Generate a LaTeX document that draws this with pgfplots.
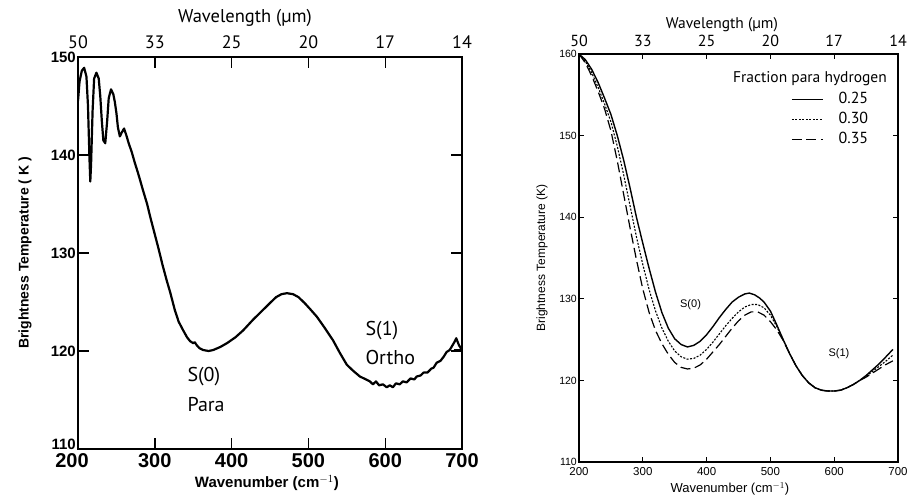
\documentclass[border=0pt]{standalone}
\usepackage{fontspec}
\setmainfont{PT Sans}
\newfontfamily\scan{Liberation Sans}
\usepackage{pgfplots}
\pgfplotsset{compat=1.18}
\newcommand{\fs}[1]{\fontsize{#1}{#1}\selectfont}

\begin{document}
\begin{tikzpicture}[x=1pt,y=1pt]
% ===================== LEFT PANEL =====================
\begin{axis}[at={(78pt,50pt)}, anchor=south west, scale only axis,
  width=384pt, height=392pt,
  xmin=200, xmax=700, ymin=110, ymax=150,
  xtick={300,400,...,700}, ytick={120,130,...,150},
  extra x ticks={200}, extra y ticks={110},
  extra x tick style={xticklabel style={xshift=-6pt}},
  extra y tick style={yticklabel style={yshift=4.5pt}},
  major tick length=11pt,
  tick style={line width=1.4pt, black},
  axis line style={line width=1.6pt},
  /pgf/number format/assume math mode=true,
  xticklabel style={font=\scan\bfseries\fs{20}, anchor=base, yshift=-18.5pt, inner ysep=0.5pt},
  yticklabel style={font=\scan\bfseries\fs{15}, anchor=east, inner xsep=2pt, inner ysep=0.5pt},
  xlabel={Wavenumber (cm$^{-1}$)},
  xlabel style={font=\scan\bfseries\fs{15}, at={(axis description cs:0.492,-0.0987)}, anchor=base},
  ylabel={Brightness Temperature ( K )},
  ylabel style={font=\scan\bfseries\fs{14}, at={(axis description cs:-0.138,0.5)}, anchor=center},
]
\addplot[black, line width=2.2pt, line join=round] coordinates {
(200,145.5) (202,147.5) (205,148.6) (208,148.9) (211,148.0) (213,145.0) (215,139.5)
(216,137.3) (217,139.0) (219,144.5) (221,147.8) (224,148.4) (227,147.8) (229,146.0)
(231,143.5) (233,141.5) (235.5,141.2) (238,143.5) (240,145.8) (243,146.7) (246,146.2)
(248,145.4) (250,144.3) (252,142.8) (254.5,141.9) (257,142.3) (260,142.7) (263,142.0)
(266,141.2) (270,140.3) (274,139.2) (278,138.2) (281,137.4) (285,136.3) (290,135.0)
(294,133.7) (300,131.9) (305,130.4) (310,128.8) (315.5,127.2) (320,126.0) (326,124.2)
(331,123.0) (337,122.1) (342,121.4) (346,121.0) (350,120.8) (352,120.9) (354.5,120.6)
(358,120.3) (363,120.1) (370,120.0) (376,120.1) (385,120.4) (394,120.8) (405,121.4)
(415,122.1) (428,123.2) (441,124.2) (450,124.9) (458,125.5) (465,125.8) (472,125.9)
(480,125.8) (487,125.5) (495,124.9) (502,124.3) (511,123.5) (520,122.5) (532,121.1)
(541,119.8) (550,118.6) (558,118.0) (567,117.4) (575,117.1) (580,116.9) (584,116.6)
(588,116.9) (592,116.5) (597,116.6) (602,116.3) (606,116.5) (610,116.3) (614,116.7)
(619,116.6) (623,116.9) (628,116.8) (633,117.2) (638,117.1) (641,117.4) (646,117.5)
(650,117.8) (655,117.8) (660,118.2) (663,118.3) (667,118.8) (672,119.0) (676,119.4)
(680,119.9) (684,120.1) (687,120.5) (690,120.9) (692.5,121.3) (696,120.6) (700,120.1)
};
\addplot[black, line width=1.6pt] coordinates {(689,120.1) (700,120.1)};
\node[anchor=base west, font=\fs{20}] at (axis cs:338,116.84) {S(0)};
\node[anchor=base west, font=\fs{20}] at (axis cs:338,113.8) {Para};
\node[anchor=base west, font=\fs{20}] at (axis cs:569.8,121.6) {S(1)};
\node[anchor=base west, font=\fs{20}] at (axis cs:569.8,118.67) {Ortho};
\end{axis}
% top (wavelength) labels, left
\begin{axis}[at={(78pt,50pt)}, anchor=south west, scale only axis,
  width=384pt, height=392pt,
  xmin=200, xmax=700, ymin=110, ymax=150,
  axis x line*=top, axis y line=none, axis line style={draw=none},
  xtick={200,300,...,700}, xticklabels={50,33,25,20,17,14},
  major tick length=0pt,
  xticklabel style={font=\fs{18}, anchor=base, yshift=8.7pt},
  xlabel={Wavelength (µm)},
  xlabel style={font=\fs{18.5}, at={(axis description cs:0.435,1.0875)}, anchor=base},
]
\end{axis}

% ===================== RIGHT PANEL =====================
\begin{axis}[at={(579pt,37pt)}, anchor=south west, scale only axis,
  width=319pt, height=408pt,
  xmin=200, xmax=700, ymin=110, ymax=160,
  xtick={200,300,...,700}, ytick={110,120,...,160},
  major tick length=5pt,
  tick style={line width=1.1pt, black},
  axis line style={line width=1.3pt},
  /pgf/number format/assume math mode=true,
  xticklabel style={font=\scan\fs{11.5}, anchor=base, yshift=-13pt},
  yticklabel style={font=\scan\fs{10.5}, anchor=east, inner xsep=2pt},
  xlabel={Wavenumber (cm$^{-1}$)},
  xlabel style={font=\scan\fs{13}, at={(axis description cs:0.473,-0.075)}, anchor=base},
  ylabel={Brightness Temperature (K)},
  ylabel style={font=\scan\fs{12}, at={(axis description cs:-0.116,0.5)}, anchor=center},
  legend style={at={(rel axis cs:0.6646,0.909)}, anchor=north west, draw=none, fill=none,
    inner sep=0pt, row sep=4pt, font=\fs{16},
    nodes={inner ysep=0pt, inner xsep=2pt, text height=12pt, text depth=4pt},
    /tikz/every odd column/.append style={column sep=13pt}},
  legend cell align=left,
  legend image code/.code={\draw[#1] (0pt,0pt) -- (31pt,0pt);},
]
\addplot[black, line width=1.4pt] coordinates {
(200,160.0) (210,159.3) (220,158.1) (230,156.5) (240,154.6) (250,152.6) (260,150.0)
(270,147.0) (280,143.6) (290,140.0) (300,136.8) (310,133.7) (320,130.8) (330,128.3)
(340,126.4) (350,125.1) (360,124.4) (370,124.1) (380,124.3) (390,124.8) (400,125.6)
(410,126.6) (420,127.7) (430,128.7) (440,129.6) (450,130.2) (460,130.6) (467,130.7)
(475,130.5) (483,130.1) (490,129.6) (500,128.5) (510,126.8) (520,125.0) (530,123.3)
(540,121.8) (550,120.6) (560,119.7) (570,119.1) (580,118.8) (590,118.7) (600,118.7)
(610,118.8) (620,119.1) (630,119.5) (640,120.0) (650,120.6) (660,121.3) (670,122.0)
(680,122.8) (692,123.8)
};
\addlegendentry{0.25}
\addplot[black, line width=1.1pt, dash pattern=on 2pt off 1.5pt] coordinates {
(200,160.0) (210,159.1) (220,157.7) (230,155.9) (240,153.9) (250,151.7) (260,148.7)
(270,145.2) (280,141.4) (290,137.6) (300,134.2) (310,131.1) (320,128.5) (330,126.4)
(340,124.8) (350,123.6) (360,122.9) (370,122.6) (380,122.7) (390,123.1) (400,123.8)
(410,124.7) (420,125.7) (430,126.7) (440,127.6) (450,128.4) (460,129.0) (470,129.3)
(480,129.3) (490,128.9) (500,128.0) (510,126.6) (520,125.0) (530,123.3) (540,121.8)
(550,120.6) (560,119.7) (570,119.1) (580,118.8) (590,118.7) (600,118.7) (610,118.8)
(620,119.1) (630,119.5) (640,120.0) (650,120.5) (660,121.1) (670,121.7) (680,122.3)
(692,123.1)
};
\addlegendentry{0.30}
\addplot[black, line width=1.2pt, dash pattern=on 10pt off 4.5pt] coordinates {
(200,160.0) (210,158.9) (220,157.3) (230,155.4) (240,153.3) (250,150.6) (260,146.9)
(270,142.8) (280,138.7) (290,134.8) (300,131.2) (310,128.3) (320,126.1) (330,124.5)
(340,123.2) (350,122.2) (360,121.6) (370,121.4) (380,121.5) (390,121.9) (400,122.6)
(410,123.5) (420,124.4) (430,125.4) (440,126.4) (450,127.3) (460,128.0) (470,128.4)
(480,128.4) (490,128.0) (500,127.2) (510,126.2) (520,124.9) (530,123.3) (540,121.8)
(550,120.6) (560,119.7) (570,119.1) (580,118.8) (590,118.7) (600,118.7) (610,118.8)
(620,119.1) (630,119.5) (640,120.0) (650,120.4) (660,120.9) (670,121.4) (680,121.9)
(692,122.4)
};
\addlegendentry{0.35}
\node[anchor=base, font=\fs{15.5}] at (rel axis cs:0.724,0.9297) {Fraction para hydrogen};
\node[anchor=base west, font=\scan\fs{11}] at (axis cs:353,128.9) {S(0)};
\node[anchor=base west, font=\scan\fs{11}] at (axis cs:585.6,122.9) {S(1)};
\end{axis}
% top (wavelength) labels, right
\begin{axis}[at={(579pt,37pt)}, anchor=south west, scale only axis,
  width=319pt, height=408pt,
  xmin=200, xmax=700, ymin=110, ymax=160,
  axis x line*=top, axis y line=none, axis line style={draw=none},
  xtick={200,300,...,700}, xticklabels={50,33,25,20,17,14},
  major tick length=0pt,
  xticklabel style={font=\fs{16}, anchor=base, yshift=7pt},
  xlabel={Wavelength (µm)},
  xlabel style={font=\fs{15.5}, at={(axis description cs:0.448,1.0613)}, anchor=base},
]
\end{axis}
\pgfresetboundingbox
\path (0,0) rectangle (909,499);
\end{tikzpicture}
\end{document}
